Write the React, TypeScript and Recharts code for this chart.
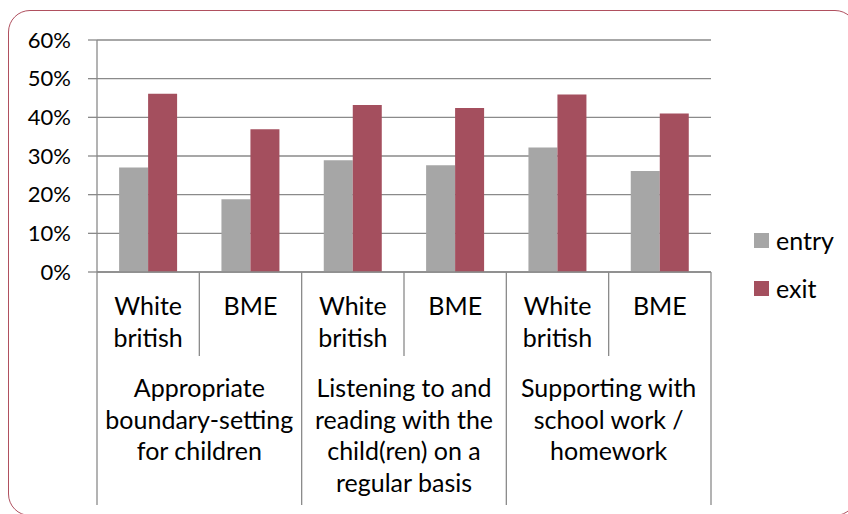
import React from "react";
import { BarChart, Bar, XAxis, YAxis, CartesianGrid, Legend } from "recharts";

const subLabels: string[][] = [
  ["White", "british"],
  ["BME"],
  ["White", "british"],
  ["BME"],
  ["White", "british"],
  ["BME"],
];
const groupLabels: string[][] = [
  ["Appropriate", "boundary-setting", "for children"],
  ["Listening to and", "reading with the", "child(ren) on a", "regular basis"],
  ["Supporting with", "school work /", "homework"],
];
const entryValues = [27.0, 18.8, 28.9, 27.6, 32.2, 26.1];
const exitValues = [46.1, 36.9, 43.2, 42.4, 45.9, 41.0];
const yTicks = [0, 10, 20, 30, 40, 50, 60];

const data = subLabels.map((s, i) => ({
  key: `${i}`,
  entry: entryValues[i],
  exit: exitValues[i],
}));

const W = 848;
const H = 514;
const PLOT_LEFT = 97;
const PLOT_RIGHT = 711;
const PLOT_TOP = 40;
const PLOT_BOTTOM = 272;
const BAND = (PLOT_RIGHT - PLOT_LEFT) / subLabels.length;
const FONT = "Lato, 'Open Sans', sans-serif";
const FS = 25;
const LH = 31.7;
const GRID = "#8a8a8a";
const ENTRY = "#a6a6a6";
const EXIT = "#a44f5e";

const CategoryTick = (props: any) => {
  const { x, y, payload } = props;
  const i = Number(payload.value);
  const half = BAND / 2;
  const lines = subLabels[i] || [];
  const isGroupStart = i % 2 === 0;
  const isGroupEnd = i % 2 === 1;
  return (
    <g>
      {lines.map((l, k) => (
        <text key={k} x={x} y={y + 43 + k * LH} textAnchor="middle" fontFamily={FONT} fontSize={FS} fill="#000">
          {l}
        </text>
      ))}
      {i === 0 && (
        <line x1={x - half} x2={x - half} y1={y} y2={y + 233} stroke={GRID} strokeWidth={1.3} />
      )}
      <line x1={x + half} x2={x + half} y1={y} y2={y + (isGroupEnd ? 233 : 84)} stroke={GRID} strokeWidth={1.3} />
      {isGroupStart &&
        (groupLabels[i / 2] || []).map((l, k) => (
          <text key={"g" + k} x={x + half} y={y + 125 + k * LH} textAnchor="middle" fontFamily={FONT} fontSize={FS} fill="#000">
            {l}
          </text>
        ))}
    </g>
  );
};

const renderLegend = (props: any) => {
  const { payload } = props;
  return (
    <div style={{ fontFamily: FONT, fontSize: FS, color: "#000" }}>
      {(payload || []).map((p: any, k: number) => (
        <div key={k} style={{ display: "flex", alignItems: "center", height: 48 }}>
          <span style={{ display: "inline-block", width: 15, height: 15, background: p.color, marginRight: 7 }} />
          <span style={{ lineHeight: "30px" }}>{p.value}</span>
        </div>
      ))}
    </div>
  );
};

export default function App() {
  return (
    <div style={{ position: "fixed", left: 0, top: 0, width: W, height: H, overflow: "hidden", background: "#fff" }}>
      <div
        style={{
          position: "absolute",
          left: 8,
          top: 10,
          width: 849,
          height: 506,
          border: "1.5px solid #b0505f",
          borderRadius: 22,
          boxSizing: "border-box",
        }}
      />
      <div style={{ position: "absolute", left: 0, top: 0 }}>
        <BarChart
          width={W}
          height={H}
          data={data}
          margin={{ top: PLOT_TOP, right: W - PLOT_RIGHT, bottom: 0, left: 0 }}
          barCategoryGap="21.6%"
          barGap={0}
        >
          <CartesianGrid vertical={false} stroke={GRID} strokeWidth={1.3} />
          <YAxis
            width={PLOT_LEFT}
            domain={[0, 60]}
            ticks={yTicks}
            interval={0}
            tickFormatter={(v: number) => `${v}%`}
            tick={{ fontFamily: FONT, fontSize: 22, fill: "#000" }}
            tickSize={9}
            tickMargin={17}
            axisLine={{ stroke: GRID, strokeWidth: 1.3 }}
            tickLine={{ stroke: GRID, strokeWidth: 1.3 }}
          />
          <XAxis
            dataKey="key"
            height={H - PLOT_BOTTOM}
            interval={0}
            tickSize={0}
            tickMargin={0}
            tickLine={false}
            axisLine={{ stroke: GRID, strokeWidth: 1.3 }}
            tick={<CategoryTick />}
          />
          <Legend
            layout="horizontal"
            verticalAlign="middle"
            align="center"
            content={renderLegend}
            wrapperStyle={{ position: "absolute", left: 754, top: 216, width: 90 }}
          />
          <Bar dataKey="entry" name="entry" fill={ENTRY} isAnimationActive={false} />
          <Bar dataKey="exit" name="exit" fill={EXIT} isAnimationActive={false} />
        </BarChart>
      </div>
    </div>
  );
}
